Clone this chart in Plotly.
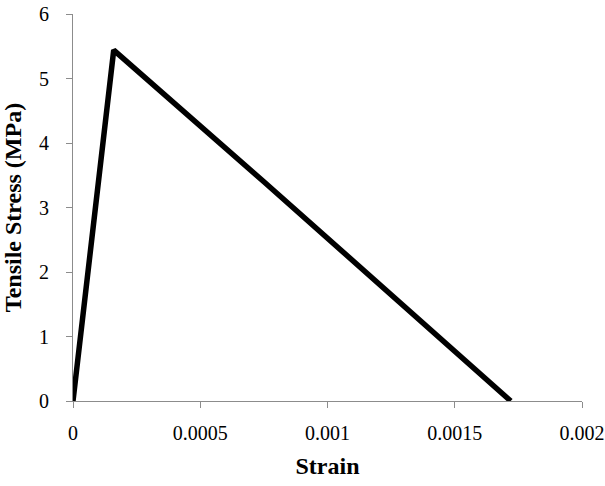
import plotly.graph_objects as go

strain = [0.0, 0.00016, 0.00075, 0.00172]
stress = [0.0, 5.44, 3.40, 0.0]

x_ticks = [0, 0.0005, 0.001, 0.0015, 0.002]
x_tick_text = ["0", "0.0005", "0.001", "0.0015", "0.002"]
y_ticks = [0, 1, 2, 3, 4, 5, 6]

fig = go.Figure()
fig.add_trace(go.Scatter(x=strain, y=stress, mode="lines",
                         line=dict(color="black", width=5.5),
                         showlegend=False))

font = "Liberation Serif, Times New Roman, serif"
fig.update_layout(
    width=605, height=486,
    margin=dict(l=73, r=23, t=14, b=85, autoexpand=False),
    paper_bgcolor="white", plot_bgcolor="white",
    font=dict(family=font, color="black", size=20),
    xaxis=dict(range=[0, 0.002], tickvals=x_ticks, ticktext=x_tick_text,
               showgrid=False, zeroline=False, showline=True, automargin=False,
               linecolor="#8c8c8c", linewidth=1.2,
               ticks="outside", ticklen=6, tickcolor="#8c8c8c",
               ticklabelstandoff=8,
               tickfont=dict(family=font, size=20),
               title=dict(text="<b>Strain</b>", font=dict(family=font, size=24), standoff=14)),
    yaxis=dict(range=[0, 6], tickvals=y_ticks,
               showgrid=False, zeroline=False, showline=True, automargin=False,
               linecolor="#8c8c8c", linewidth=1.2,
               ticks="outside", ticklen=6, tickcolor="#8c8c8c",
               ticklabelstandoff=13,
               tickfont=dict(family=font, size=20),
               title=dict(text="<b>Tensile Stress (MPa)</b>", font=dict(family=font, size=24), standoff=10)),
)

fig.write_html("out.html")
